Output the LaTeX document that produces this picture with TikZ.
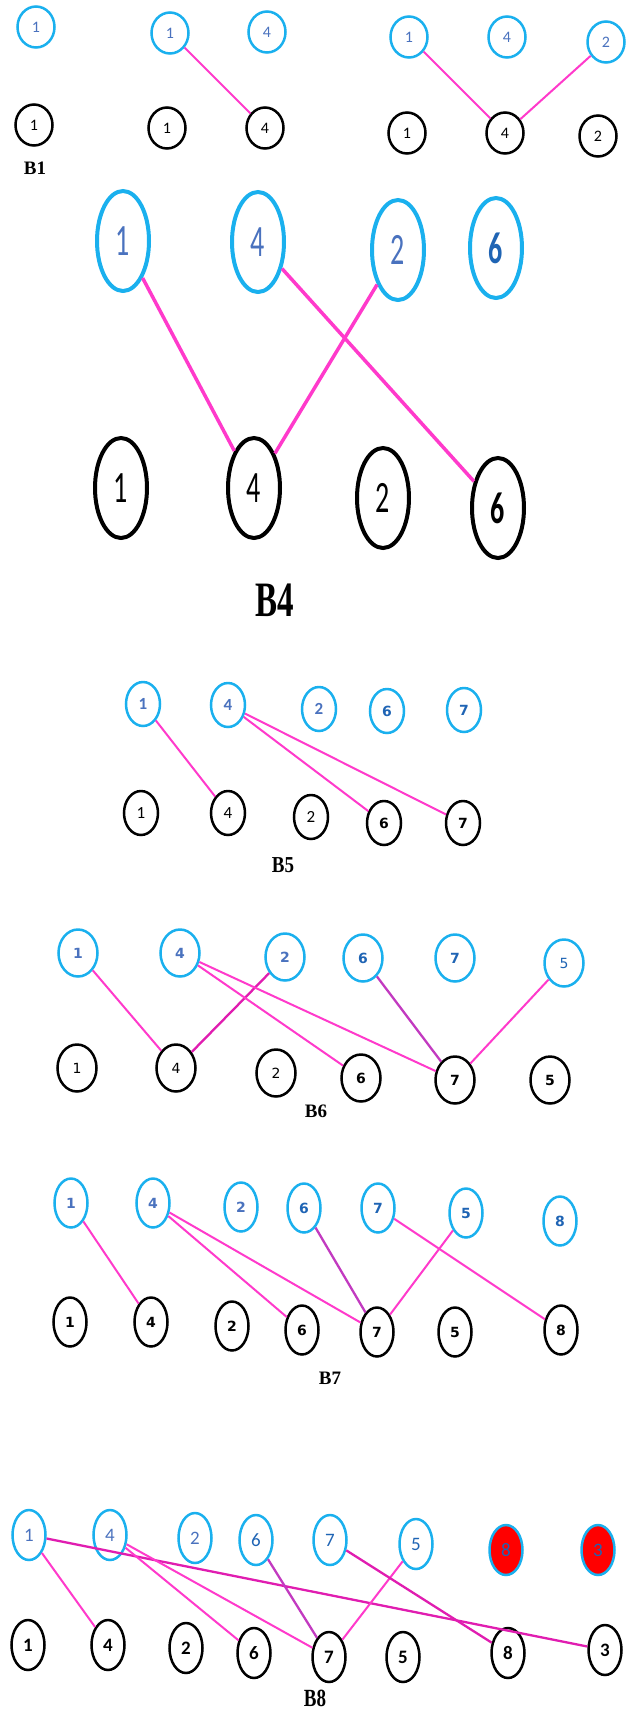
\documentclass[tikz,border=0pt]{standalone}
\usepackage{fontspec}
\usepackage{graphicx}
\usetikzlibrary{shapes.geometric}
\newfontfamily\calf{Carlito}
\newfontfamily\verf{DejaVu Sans}
\newfontfamily\lblf{Liberation Serif}
\definecolor{cyb}{HTML}{1AB0EE}
\definecolor{blt}{HTML}{4A72BE}
\definecolor{bdk}{HTML}{1F64B4}
\definecolor{mg}{HTML}{FF3ACB}
\definecolor{mgd}{HTML}{E01DB0}
\definecolor{pu}{HTML}{C23AC0}
\definecolor{rd}{HTML}{FF0000}
\newcommand\tallt[1]{\scalebox{1}[1.6]{#1}}
\begin{document}
\begin{tikzpicture}[x=1pt,y=-1pt,
  tp/.style={ellipse,draw=cyb,line width=2.5pt,inner sep=0pt,text=blt},
  bm/.style={ellipse,draw=black,line width=2.5pt,inner sep=0pt,text=black},
  dk/.style={text=bdk},
  sa/.style={minimum width=37pt,minimum height=41pt,font=\calf\fontsize{16}{16}\selectfont},
  sd/.style={minimum width=52pt,minimum height=100pt,line width=4pt,font=\calf\fontsize{28}{28}\selectfont},
  se/.style={minimum width=34pt,minimum height=44pt,font=\calf\bfseries\fontsize{17}{17}\selectfont},
  sev/.style={minimum width=34pt,minimum height=44pt,font=\verf\bfseries\fontsize{14}{14}\selectfont},
  sf/.style={minimum width=39pt,minimum height=47pt,font=\verf\bfseries\fontsize{14}{14}\selectfont},
  sfr/.style={minimum width=39pt,minimum height=47pt,font=\verf\fontsize{14}{14}\selectfont},
  sg/.style={minimum width=33pt,minimum height=49pt,font=\verf\bfseries\fontsize{14}{14}\selectfont},
  sh/.style={minimum width=33pt,minimum height=50pt,font=\calf\fontsize{19}{19}\selectfont},
  shb/.style={minimum width=33pt,minimum height=50pt,font=\calf\bfseries\fontsize{19}{19}\selectfont},
  red/.style={fill=rd},
  ln/.style={draw=mg,line width=2pt},
  lnd/.style={draw=mgd,line width=2.3pt},
  lnp/.style={draw=pu,line width=2.3pt},
  lbl/.style={font=\lblf\bfseries\fontsize{19}{19}\selectfont}
]
\useasboundingbox (0,0) rectangle (635,1709);
% ---- B1 groups
\node[tp,sa] (at1) at (36,27) {1};
\node[bm,sa] (ab1) at (34,125) {1};
\node[lbl] (la) at (35,168) {B1};
\node[tp,sa] (bt1) at (170,33) {1};
\node[tp,sa] (bt4) at (267,32) {4};
\node[bm,sa] (bb1) at (167,128) {1};
\node[bm,sa] (bb4) at (265,128) {4};
\draw[ln] (bt1) -- (bb4);
\node[tp,sa] (ct1) at (409,37) {1};
\node[tp,sa] (ct4) at (507,37) {4};
\node[tp,sa] (ct2) at (606,42) {2};
\node[bm,sa] (cb1) at (407,133) {1};
\node[bm,sa] (cb4) at (505,133) {4};
\node[bm,sa] (cb2) at (598,136) {2};
\draw[ln] (ct1) -- (cb4);
\draw[ln] (ct2) -- (cb4);
% ---- B4
\node[tp,sd] (dt1) at (123,241) {\tallt{1}};
\node[tp,sd] (dt4) at (258,242) {\tallt{4}};
\node[tp,sd] (dt2) at (398,250) {\tallt{2}};
\node[tp,sd,dk] (dt6) at (496,248) {\tallt{\bfseries 6}};
\node[bm,sd] (db1) at (121,488) {\tallt{1}};
\node[bm,sd] (db4) at (254,488) {\tallt{4}};
\node[bm,sd] (db2) at (383,498) {\tallt{2}};
\node[bm,sd] (db6) at (498,508) {\tallt{\bfseries 6}};
\node[font=\lblf\bfseries\fontsize{33}{33}\selectfont] (ld) at (275,600) {\scalebox{1}[1.5]{B4}};
\draw[ln,line width=3.5pt] (dt1) -- (db4);
\draw[ln,line width=3.5pt] (dt4) -- (db6);
\draw[ln,line width=3.5pt] (dt2) -- (db4);
% ---- B5
\node[tp,se] (et1) at (143,704) {1};
\node[tp,se] (et4) at (228,705) {4};
\node[tp,se] (et2) at (319,709) {2};
\node[tp,sev,dk] (et6) at (387,711) {6};
\node[tp,sev,dk] (et7) at (464,710) {7};
\node[bm,se,font=\calf\fontsize{17}{17}\selectfont] (eb1) at (141,813) {1};
\node[bm,se,font=\calf\fontsize{17}{17}\selectfont] (eb4) at (228,813) {4};
\node[bm,se,font=\calf\fontsize{17}{17}\selectfont] (eb2) at (311,817) {2};
\node[bm,sev] (eb6) at (384,823) {6};
\node[bm,sev] (eb7) at (463,823) {7};
\node[lbl] (le) at (283,865) {\scalebox{1}[1.2]{B5}};
\draw[ln] (et1) -- (eb4);
\draw[ln] (et4) -- (eb6);
\draw[ln] (et4) -- (eb7);
% ---- B6
\node[tp,sf] (ft1) at (78,953) {1};
\node[tp,sf] (ft4) at (180,953) {4};
\node[tp,sf] (ft2) at (285,957) {2};
\node[tp,sf,dk] (ft6) at (363,958) {6};
\node[tp,sf,dk] (ft7) at (455,958) {7};
\node[tp,sfr,dk] (ft5) at (564,963) {5};
\node[bm,sfr] (fb1) at (77,1068) {1};
\node[bm,sfr] (fb4) at (176,1068) {4};
\node[bm,sfr] (fb2) at (276,1073) {2};
\node[bm,sf] (fb6) at (361,1078) {6};
\node[bm,sf] (fb7) at (455,1080) {7};
\node[bm,sf] (fb5) at (550,1080) {5};
\node[lbl] (lf) at (316,1111) {B6};
\draw[ln] (ft1) -- (fb4);
\draw[lnd] (ft2) -- (fb4);
\draw[ln] (ft4) -- (fb6);
\draw[ln] (ft4) -- (fb7);
\draw[lnp] (ft6) -- (fb7);
\draw[ln] (ft5) -- (fb7);
% ---- B7
\node[tp,sg] (gt1) at (71,1203) {1};
\node[tp,sg] (gt4) at (153,1203) {4};
\node[tp,sg] (gt2) at (241,1207) {2};
\node[tp,sg,dk] (gt6) at (304,1208) {6};
\node[tp,sg,dk] (gt7) at (378,1208) {7};
\node[tp,sg,dk] (gt5) at (466,1213) {5};
\node[tp,sg,dk] (gt8) at (560,1221) {8};
\node[bm,sg] (gb1) at (70,1322) {1};
\node[bm,sg] (gb4) at (151,1322) {4};
\node[bm,sg] (gb2) at (232,1326) {2};
\node[bm,sg] (gb6) at (302,1330) {6};
\node[bm,sg] (gb7) at (377,1332) {7};
\node[bm,sg] (gb5) at (455,1332) {5};
\node[bm,sg] (gb8) at (561,1330) {8};
\node[lbl] (lg) at (330,1378) {B7};
\draw[ln] (gt1) -- (gb4);
\draw[ln] (gt4) -- (gb6);
\draw[ln] (gt4) -- (gb7);
\draw[lnp] (gt6) -- (gb7);
\draw[ln] (gt5) -- (gb7);
\draw[ln] (gt7) -- (gb8);
% ---- B8
\node[tp,sh] (ht1) at (29,1535) {1};
\node[tp,sh] (ht4) at (110,1535) {4};
\node[tp,sh] (ht2) at (195,1538) {2};
\node[tp,sh,dk] (ht6) at (256,1540) {6};
\node[tp,sh,dk] (ht7) at (330,1540) {7};
\node[tp,sh,dk] (ht5) at (416,1544) {5};
\node[tp,sh,dk,red] (ht8) at (506,1550) {8};
\node[tp,sh,dk,red] (ht3) at (598,1550) {3};
\node[bm,shb] (hb1) at (28,1645) {1};
\node[bm,shb] (hb4) at (108,1645) {4};
\node[bm,shb] (hb2) at (186,1648) {2};
\node[bm,shb] (hb6) at (254,1653) {6};
\node[bm,shb] (hb7) at (329,1657) {7};
\node[bm,shb] (hb5) at (403,1657) {5};
\node[bm,shb] (hb8) at (508,1653) {8};
\node[bm,shb] (hb3) at (605,1650) {3};
\node[lbl] (lh) at (315,1698) {\scalebox{1}[1.3]{B8}};
\draw[ln] (ht1) -- (hb4);
\draw[lnd] (ht1) -- (hb3);
\draw[ln] (ht4) -- (hb6);
\draw[ln] (ht4) -- (hb7);
\draw[lnp] (ht6) -- (hb7);
\draw[ln] (ht5) -- (hb7);
\draw[lnd] (ht7) -- (hb8);
\end{tikzpicture}
\end{document}
